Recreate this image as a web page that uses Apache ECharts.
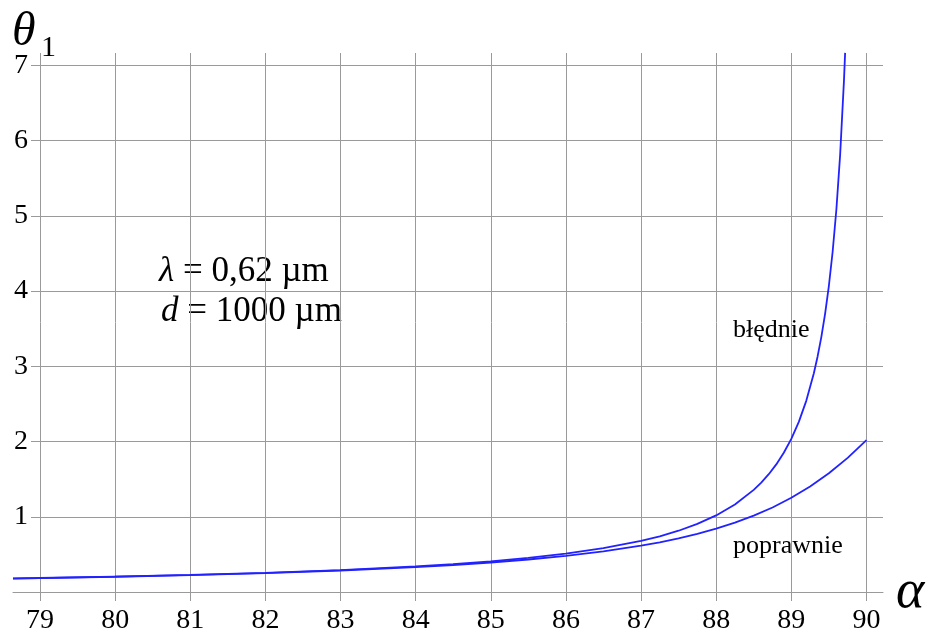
<!DOCTYPE html>
<html>
<head>
<meta charset="utf-8">
<script src="https://cdn.jsdelivr.net/npm/echarts@6/dist/echarts.min.js"></script>
<style>html,body{margin:0;padding:0;background:#fff;}#c{width:930px;height:636px;}</style>
</head>
<body>
<div id="c"></div>
<script>
// x tick values (alpha, degrees)
const xTicks = [79, 80, 81, 82, 83, 84, 85, 86, 87, 88, 89, 90];
const yTicks = [0, 1, 2, 3, 4, 5, 6, 7];

// "poprawnie" curve
const alphaP = [78.645, 79, 80, 81, 82, 83, 84, 84.5, 85, 85.5, 86, 86.5, 87, 87.25, 87.5, 87.75, 88, 88.25, 88.5, 88.75, 89, 89.25, 89.5, 89.75, 90];
const poprawnie = [0.1790, 0.1846, 0.2025, 0.2243, 0.2513, 0.2857, 0.3308, 0.3590, 0.3922, 0.4320, 0.4804, 0.5403, 0.6157, 0.6610, 0.7129, 0.7724, 0.8411, 0.9210, 1.0143, 1.1236, 1.2520, 1.4026, 1.5787, 1.7831, 2.0177];

// "błędnie" curve
const alphaB = [78.645, 79, 80, 81, 82, 83, 84, 84.5, 85, 85.5, 86, 86.5, 87, 87.25, 87.5, 87.75, 88, 88.25, 88.5, 88.6, 88.7, 88.8, 88.9, 89, 89.1, 89.2, 89.3, 89.35, 89.4, 89.45, 89.5, 89.55, 89.6, 89.65, 89.7, 89.716];
const bledne = [0.1804, 0.1862, 0.2046, 0.2271, 0.2553, 0.2915, 0.3398, 0.3706, 0.4076, 0.4528, 0.5093, 0.5819, 0.6788, 0.7404, 0.8144, 0.9048, 1.0179, 1.1632, 1.3571, 1.4540, 1.5658, 1.6962, 1.8504, 2.0355, 2.2616, 2.5443, 2.9077, 3.1313, 3.3923, 3.7007, 4.0707, 4.5230, 5.0884, 5.8153, 6.7845, 7.1667];

const X_MIN = 78.645, X_MAX = 90.22, Y_MAX = 7.165;

const serif = '"Liberation Serif", "DejaVu Serif", serif';
const gridColor = '#9a9a9a';
const lineColor = '#2222ff';

const chart = echarts.init(document.getElementById('c'), null, {renderer: 'canvas'});

const option = {
  backgroundColor: '#fff',
  animation: false,
  grid: [
    {left: 13, right: 47, top: 53, bottom: 44},
    {left: 40, right: 63.5, top: 53, bottom: 44},
    {left: 31, right: 47, top: 65.4, bottom: 44}
  ],
  xAxis: [
    {gridIndex: 0, type: 'value', min: X_MIN, max: X_MAX,
     axisLine: {show: true, onZero: false, lineStyle: {color: gridColor, width: 1}},
     axisTick: {show: false}, axisLabel: {show: false}, splitLine: {show: false}},
    {gridIndex: 1, type: 'value', min: xTicks[0], max: xTicks[xTicks.length - 1], interval: 1,
     axisLine: {show: false},
     axisTick: {show: true, length: 9, inside: false, lineStyle: {color: gridColor, width: 1}},
     axisLabel: {show: true, margin: 15, fontFamily: serif, fontSize: 28, color: '#000'},
     splitLine: {show: true, lineStyle: {color: gridColor, width: 1}}},
    {gridIndex: 2, type: 'value', min: 0, max: 1, show: false}
  ],
  yAxis: [
    {gridIndex: 0, type: 'value', min: 0, max: Y_MAX, show: false},
    {gridIndex: 1, type: 'value', min: 0, max: 1, show: false},
    {gridIndex: 2, type: 'value', min: yTicks[0], max: yTicks[yTicks.length - 1], interval: 1,
     axisLine: {show: false}, axisTick: {show: false},
     axisLabel: {show: true, margin: 3, fontFamily: serif, fontSize: 28, color: '#000', showMinLabel: false},
     splitLine: {show: true, lineStyle: {color: gridColor, width: 1}}}
  ],
  series: [
    {name: 'poprawnie', type: 'line', xAxisIndex: 0, yAxisIndex: 0, showSymbol: false, symbol: 'none',
     lineStyle: {color: lineColor, width: 1.8}, z: 5,
     data: alphaP.map((a, i) => [a, poprawnie[i]])},
    {name: 'błędnie', type: 'line', xAxisIndex: 0, yAxisIndex: 0, showSymbol: false, symbol: 'none',
     lineStyle: {color: lineColor, width: 1.8}, z: 5,
     data: alphaB.map((a, i) => [a, bledne[i]])}
  ],
  graphic: [
    {type: 'text', left: 12, top: 8, style: {text: 'θ', font: 'italic 48px ' + serif, fill: '#000'}},
    {type: 'text', left: 41, top: 33, style: {text: '1', font: '30px ' + serif, fill: '#000'}},
    {type: 'text', left: 896, top: 566, style: {text: 'α', font: 'italic 54px ' + serif, fill: '#000'}},
    {type: 'text', left: 159, top: 254, style: {
      text: '{i|λ} = 0,62 µm',
      rich: {i: {fontFamily: serif, fontStyle: 'italic', fontSize: 35, fill: '#000'}},
      fontFamily: serif, fontSize: 35, fill: '#000'}},
    {type: 'text', left: 161, top: 294, style: {
      text: '{i|d} = 1000 µm',
      rich: {i: {fontFamily: serif, fontStyle: 'italic', fontSize: 35, fill: '#000'}},
      fontFamily: serif, fontSize: 35, fill: '#000'}},
    {type: 'text', left: 733, top: 317, style: {text: 'błędnie', font: '26px ' + serif, fill: '#000'}},
    {type: 'text', left: 733, top: 533, style: {text: 'poprawnie', font: '26px ' + serif, fill: '#000'}}
  ]
};
chart.setOption(option);
</script>
</body>
</html>
